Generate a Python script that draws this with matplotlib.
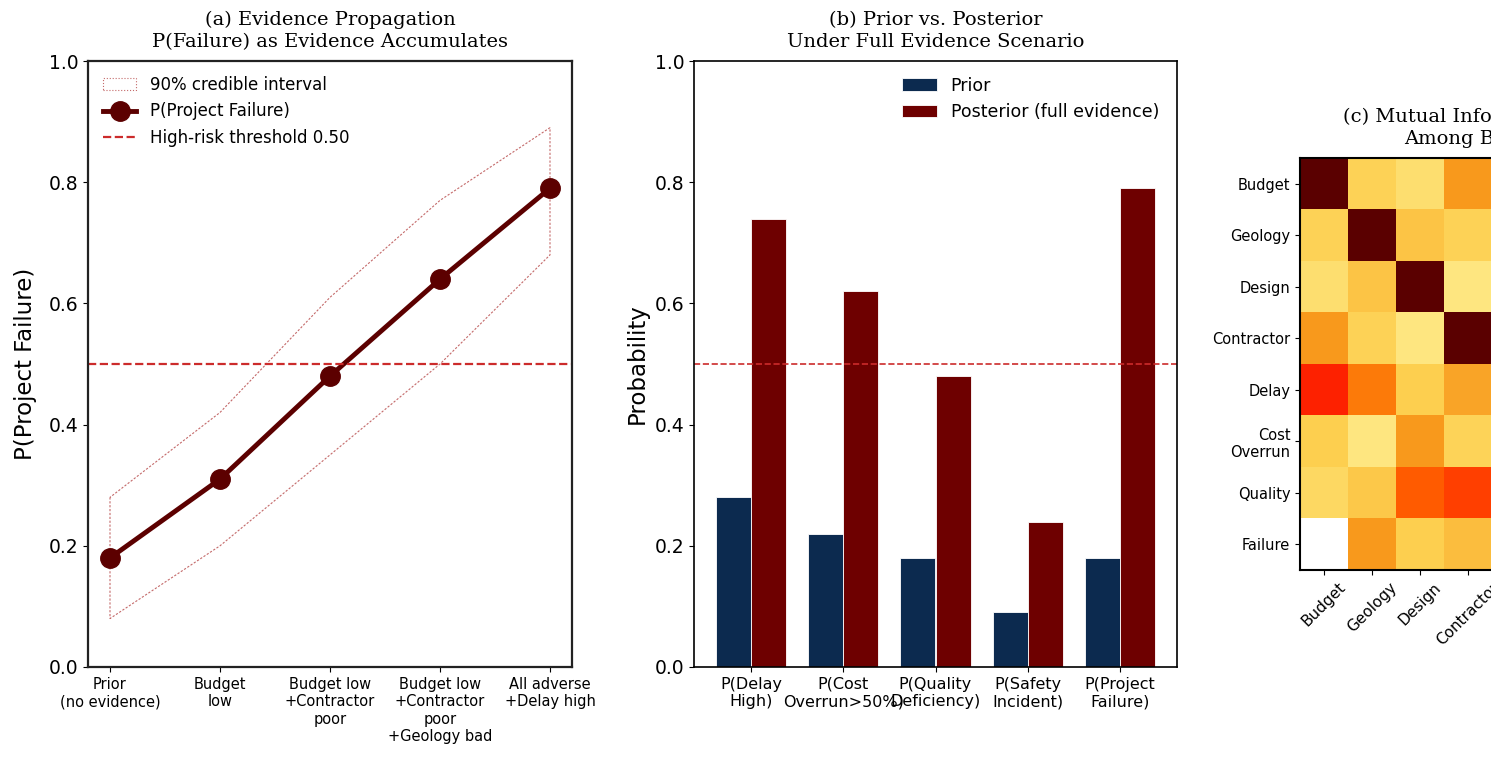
import matplotlib.pyplot as plt
import numpy as np
from matplotlib.colors import LinearSegmentedColormap
from matplotlib.patches import Patch
from matplotlib.lines import Line2D

# (a) evidence propagation
stages = ["Prior\n(no evidence)", "Budget\nlow", "Budget low\n+Contractor\npoor",
          "Budget low\n+Contractor\npoor\n+Geology bad", "All adverse\n+Delay high"]
p_fail = [0.18, 0.31, 0.48, 0.64, 0.79]
ci_low = [0.08, 0.20, 0.35, 0.50, 0.68]
ci_high = [0.28, 0.42, 0.61, 0.77, 0.89]
threshold = 0.50

# (b) prior vs posterior
queries = ["P(Delay\nHigh)", "P(Cost\nOverrun>50%)", "P(Quality\nDeficiency)",
           "P(Safety\nIncident)", "P(Project\nFailure)"]
prior = [0.28, 0.22, 0.18, 0.09, 0.18]
posterior = [0.74, 0.62, 0.48, 0.24, 0.79]

# (c) mutual information between nodes (normalised)
nodes = ["Budget", "Geology", "Design", "Contractor", "Delay", "Cost\nOverrun", "Quality", "Failure"]
mi = [
    [1.00, 0.28, 0.20, 0.45, 0.70, 0.30, 0.24, 0.00],
    [0.28, 1.00, 0.33, 0.28, 0.55, 0.15, 0.32, 0.45],
    [0.20, 0.33, 1.00, 0.15, 0.30, 0.45, 0.62, 0.30],
    [0.45, 0.28, 0.15, 1.00, 0.42, 0.27, 0.66, 0.35],
    [0.70, 0.55, 0.30, 0.42, 1.00, 0.50, 0.35, 0.60],
    [0.30, 0.15, 0.45, 0.27, 0.50, 1.00, 0.38, 0.55],
    [0.24, 0.32, 0.62, 0.66, 0.35, 0.38, 1.00, 0.50],
    [0.00, 0.45, 0.30, 0.35, 0.60, 0.55, 0.50, 1.00],
]

DARK = "#5c0000"
NAVY = "#0c2a4f"
MAROON = "#6e0000"
THRESH = "#cc2b2b"
TITLE_FONT = dict(family="DejaVu Serif", fontsize=14, linespacing=1.3, pad=10)

fig = plt.figure(figsize=(14.91, 7.58), dpi=100)
W, H = 1491, 758

# ---- (a)
ax1 = fig.add_axes([88 / W, 91 / H, 484 / W, 606 / H])
x = np.arange(len(stages))
ax1.fill_between(x, ci_low, ci_high, facecolor="none", edgecolor="#c46a6a",
                 linestyle=(0, (2, 1.5)), linewidth=0.8)
ax1.plot(x, p_fail, color=DARK, linewidth=3.5, marker="o", markersize=14)
ax1.axhline(threshold, color=THRESH, linestyle="--", linewidth=1.6)
ax1.set_xlim(-0.2, 4.2)
ax1.set_ylim(0, 1)
ax1.set_xticks(x)
ax1.set_xticklabels(stages, fontsize=10.5)
ax1.tick_params(axis="y", labelsize=13.5)
ax1.set_ylabel("P(Project Failure)", fontsize=16.5, labelpad=8)
ax1.set_title("(a) Evidence Propagation\nP(Failure) as Evidence Accumulates", **TITLE_FONT)
for s in ax1.spines.values():
    s.set_linewidth(1.6)
    s.set_color("#222222")
handles = [
    Patch(facecolor="none", edgecolor="#c46a6a", linestyle=":", linewidth=0.8),
    Line2D([], [], color=DARK, linewidth=3.5, marker="o", markersize=14),
    Line2D([], [], color=THRESH, linestyle="--", linewidth=1.6),
]
ax1.legend(handles, ["90% credible interval", "P(Project Failure)",
                     "High-risk threshold 0.50"],
           loc="upper left", frameon=False, fontsize=12)

# ---- (b)
ax2 = fig.add_axes([694 / W, 91 / H, 483 / W, 606 / H])
xb = np.arange(len(queries))
bw = 0.38
ax2.bar(xb - bw / 2, prior, bw, color=NAVY, edgecolor="white", linewidth=0.6, label="Prior")
ax2.bar(xb + bw / 2, posterior, bw, color=MAROON, edgecolor="white", linewidth=0.6,
        label="Posterior (full evidence)")
ax2.axhline(threshold, color=THRESH, linestyle="--", linewidth=1.2)
ax2.set_ylim(0, 1)
ax2.set_xticks(xb)
ax2.set_xticklabels(queries, fontsize=11.5)
ax2.tick_params(axis="y", labelsize=13.5)
ax2.set_ylabel("Probability", fontsize=16.5)
ax2.set_title("(b) Prior vs. Posterior\nUnder Full Evidence Scenario", **TITLE_FONT)
for s in ax2.spines.values():
    s.set_linewidth(1.2)
ax2.legend(loc="upper right", frameon=False, fontsize=12.5, bbox_to_anchor=(0.995, 1.0))

# ---- (c)
heat = LinearSegmentedColormap.from_list(
    "heat", [(0.0, "#ffffff"), (0.15, "#fee680"), (0.3, "#fdcf4f"), (0.45, "#f89a1d"),
             (0.6, "#ff6a00"), (0.7, "#ff2200"), (1.0, "#5a0000")])
ax3 = fig.add_axes([1300 / W, 188 / H, 384 / W, 412 / H])
ax3.imshow(np.array(mi), cmap=heat, vmin=0, vmax=1, aspect="auto")
ax3.set_xticks(range(len(nodes)))
ax3.set_xticklabels([n.replace("\n", " ") for n in nodes], rotation=45, ha="center",
                    fontsize=11)
ax3.set_yticks(range(len(nodes)))
ax3.set_yticklabels(nodes, fontsize=10.5)
ax3.set_title("(c) Mutual Information Matrix\nAmong BN Nodes", **TITLE_FONT)
for s in ax3.spines.values():
    s.set_linewidth(1.5)

fig.savefig("out.png", dpi=100)
